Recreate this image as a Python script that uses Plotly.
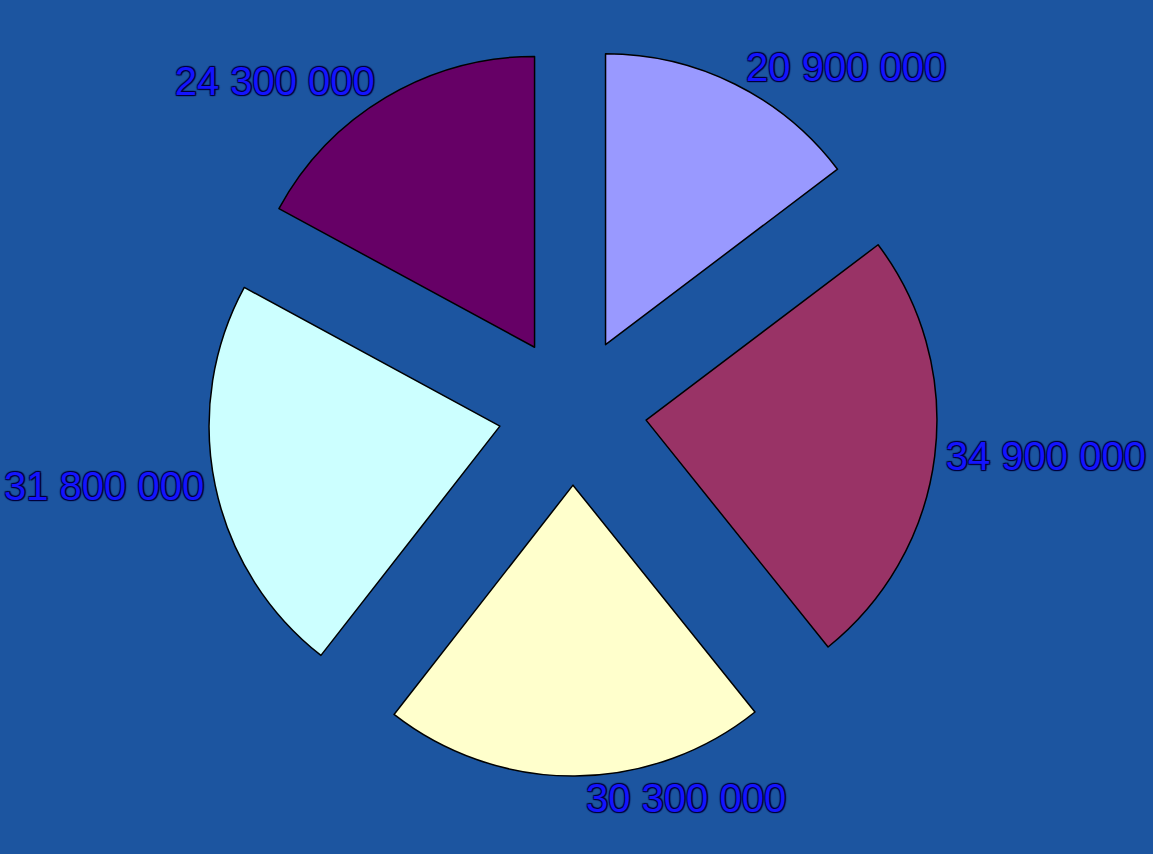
import plotly.graph_objects as go

labels = ["A", "B", "C", "D", "E"]
values = [20900000, 34900000, 30300000, 31800000, 24300000]
colors = ["#9999FF", "#993366", "#FFFFCC", "#CCFFFF", "#660066"]

bg = "#1C55A0"

fig = go.Figure(go.Pie(
    labels=labels,
    values=values,
    sort=False,
    direction="clockwise",
    rotation=0,
    pull=[0.255] * len(values),
    marker=dict(colors=colors, line=dict(color="#000000", width=1.5)),
    texttemplate="%{value:,}",
    textposition="outside",
    textfont=dict(family="Liberation Sans", size=40, color="#1414FF",
                  shadow="1px 1px 1px #00003a, -1px -1px 1px #00003a, 1px -1px 1px #00003a, -1px 1px 1px #00003a"),
    showlegend=False,
    automargin=False,
    hoverinfo="none",
))

fig.update_layout(
    width=1153, height=854,
    margin=dict(l=0, r=8, t=46, b=78),
    paper_bgcolor=bg,
    plot_bgcolor=bg,
    separators=". ",
)

fig.write_html(
    "out.html",
    config={"displayModeBar": False},
    post_script="document.body.style.margin='0px';document.body.style.background='%s';" % bg,
)
